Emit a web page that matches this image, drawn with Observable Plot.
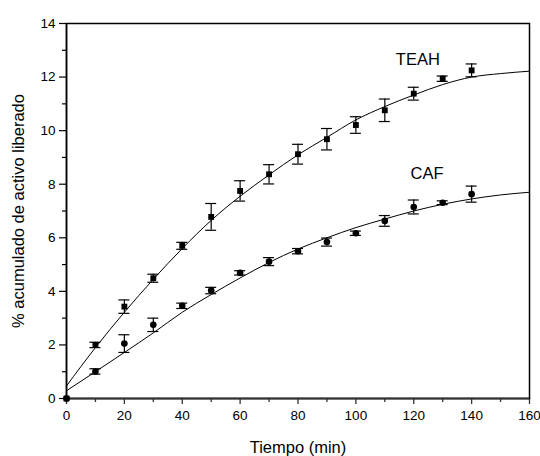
<!DOCTYPE html>
<html><head><meta charset="utf-8">
<script src="https://cdn.jsdelivr.net/npm/d3@7"></script>
<script src="https://cdn.jsdelivr.net/npm/@observablehq/plot@0.6"></script>
<style>html,body{margin:0;padding:0;background:#fff} svg{display:block}</style>
</head><body><div id="chart"></div>
<script>
// Measured release (% acumulado) vs time (min)
const times   = [0, 10, 20, 30, 40, 50, 60, 70, 80, 90, 100, 110, 120, 130, 140];
const teah    = [0, 2.00, 3.43, 4.49, 5.70, 6.78, 7.75, 8.37, 9.12, 9.68, 10.21, 10.76, 11.38, 11.94, 12.25];
const teahErr = [0, 0.10, 0.25, 0.15, 0.13, 0.50, 0.38, 0.36, 0.37, 0.40, 0.31, 0.42, 0.24, 0.10, 0.24];
const caf     = [0, 1.01, 2.05, 2.75, 3.46, 4.03, 4.69, 5.11, 5.50, 5.84, 6.17, 6.63, 7.15, 7.31, 7.63];
const cafErr  = [0, 0.10, 0.33, 0.25, 0.10, 0.12, 0.08, 0.15, 0.10, 0.15, 0.08, 0.20, 0.26, 0.07, 0.30];

// Fitted curves
const fitTimes = [0, 10, 20, 30, 40, 50, 60, 70, 80, 90, 100, 110, 120, 130, 140, 150, 160];
const teahFit  = [0.47, 1.90, 3.22, 4.45, 5.60, 6.65, 7.55, 8.35, 9.10, 9.75, 10.40, 10.90, 11.33, 11.72, 12.00, 12.13, 12.22];
const cafFit   = [0.29, 1.00, 1.72, 2.45, 3.22, 3.88, 4.50, 5.08, 5.58, 6.00, 6.38, 6.70, 7.00, 7.25, 7.45, 7.60, 7.70];

const seriesNames = ["TEAH", "CAF"];
const labelX = [121.4, 124.6];
const labelY = [12.45, 8.19];

const xMajor = [0, 20, 40, 60, 80, 100, 120, 140, 160];
const xMinor = [10, 30, 50, 70, 90, 110, 130, 150];
const yMajor = [0, 2, 4, 6, 8, 10, 12, 14];
const yMinor = [1, 3, 5, 7, 9, 11, 13];

const mkPts = (vals, errs, s) => times.map((t, i) => ({t, v: vals[i], e: errs[i], s}));
const teahPts = mkPts(teah, teahErr, "TEAH");
const cafPts = mkPts(caf, cafErr, "CAF");
const allPts = teahPts.concat(cafPts).filter(d => d.e > 0);
const fitRows = fitTimes.map((t, i) => ({t, v: teahFit[i], s: "TEAH"}))
  .concat(fitTimes.map((t, i) => ({t, v: cafFit[i], s: "CAF"})));
const labels = seriesNames.map((n, i) => ({n, x: labelX[i], y: labelY[i]}));

const capHalf = 1.9;

const chart = Plot.plot({
  width: 540, height: 456,
  marginLeft: 66, marginRight: 11, marginTop: 23, marginBottom: 58,
  style: {fontFamily: "'Liberation Sans', Arial, sans-serif", fontSize: "13.5px", color: "#000", background: "#fff"},
  x: {domain: [0, 160]},
  y: {domain: [0, 14]},
  marks: [
    Plot.axisX({ticks: xMajor, tickSize: 6, tickPadding: 6, label: null, stroke: "#333", strokeWidth: 1.3, fontSize: 13.5}),
    Plot.axisX({ticks: xMinor, tickSize: 4, tickFormat: () => "", label: null, stroke: "#333", strokeWidth: 1.3}),
    Plot.axisY({ticks: yMajor, tickSize: 7, tickPadding: 4, label: null, strokeWidth: 1.2, fontSize: 13.5}),
    Plot.axisY({ticks: yMinor, tickSize: 4, tickFormat: () => "", label: null, strokeWidth: 1.2}),
    Plot.frame({stroke: "#000", strokeWidth: 1.5}),
    Plot.ruleY([0], {stroke: "#333", strokeWidth: 2.2}),
    Plot.ruleX([0], {stroke: "#000", strokeWidth: 1.5}),
    Plot.line(fitRows, {x: "t", y: "v", z: "s", curve: "monotone-x", stroke: "#000", strokeWidth: 1}),
    Plot.ruleX(allPts, {x: "t", y1: d => d.v - d.e, y2: d => d.v + d.e, stroke: "#000", strokeWidth: 1.2}),
    Plot.ruleY(allPts, {y: d => d.v + d.e, x1: d => d.t - capHalf, x2: d => d.t + capHalf, stroke: "#000", strokeWidth: 1.2}),
    Plot.ruleY(allPts, {y: d => d.v - d.e, x1: d => d.t - capHalf, x2: d => d.t + capHalf, stroke: "#000", strokeWidth: 1.2}),
    Plot.dot(teahPts, {x: "t", y: "v", symbol: "square", r: 3.3, fill: "#000", stroke: null}),
    Plot.dot(cafPts, {x: "t", y: "v", symbol: "circle", r: 3.3, fill: "#000", stroke: null}),
    Plot.text(labels, {x: "x", y: "y", text: "n", lineAnchor: "bottom", fontSize: 16.5, fill: "#000"}),
    Plot.text(["Tiempo (min)"], {frameAnchor: "bottom", dy: 49, lineAnchor: "middle", textAnchor: "middle", fontSize: 16.5, fill: "#000"}),
    Plot.text(["% acumulado de activo liberado"], {frameAnchor: "left", dx: -48, rotate: -90, lineAnchor: "middle", textAnchor: "middle", fontSize: 16.5, fill: "#000"})
  ]
});
document.getElementById("chart").appendChild(chart);
</script>
</body></html>
